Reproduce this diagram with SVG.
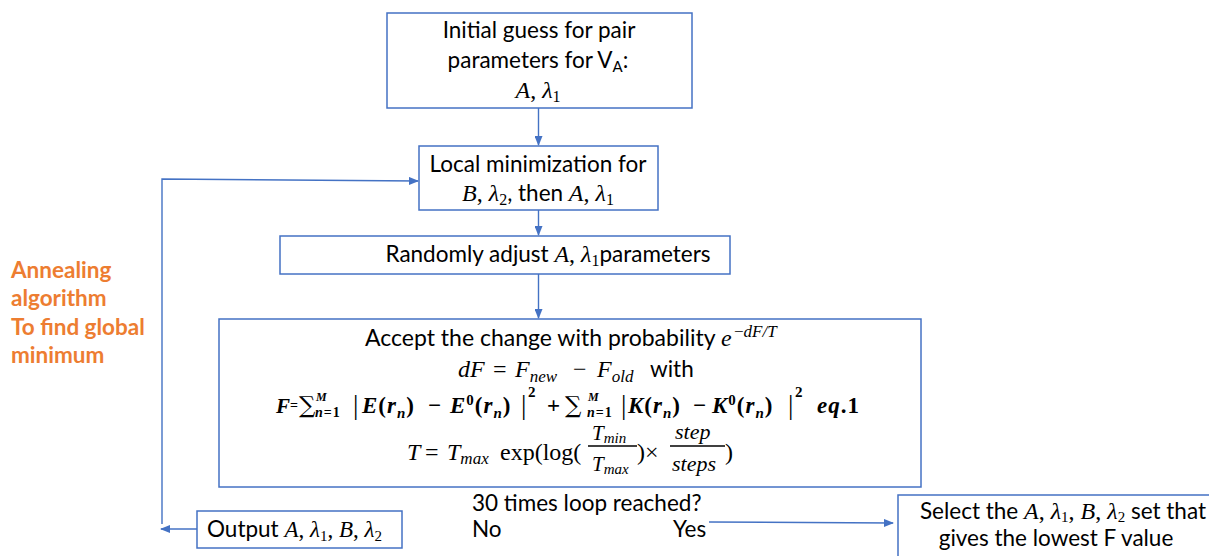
<svg xmlns="http://www.w3.org/2000/svg" width="1209" height="556" viewBox="0 0 1209 556">
<style>
.box{fill:#fff;stroke:#4472C4;stroke-width:1.5}
.cn{fill:none;stroke:#4472C4;stroke-width:1.4}
.t{font-family:Lato,"Liberation Sans",sans-serif;font-size:22.5px;font-style:normal;font-weight:normal;fill:#000}
.m{font-family:"Liberation Serif",serif;font-style:italic;fill:#000}
.mu{font-family:"Liberation Serif",serif;font-style:normal;fill:#000}
.mb{font-family:"Liberation Serif",serif;font-style:italic;font-weight:bold;letter-spacing:1px;fill:#000}
.bu{font-family:"Liberation Serif",serif;font-style:normal;font-weight:bold;fill:#000}
.sum{font-family:"DejaVu Serif",serif;font-style:normal;fill:#000}
.bar{font-family:"Liberation Serif",serif;fill:#000}
.o{font-family:Lato,"Liberation Sans",sans-serif;font-weight:bold;font-size:22.5px;fill:#ED7D31}
</style>
<defs>
<marker id="ah" markerUnits="userSpaceOnUse" markerWidth="10" markerHeight="8" refX="9" refY="4" orient="auto">
<path d="M0,0 L10,4 L0,8 z" fill="#4472C4"/>
</marker>
</defs>

<g id="connectors">
<path class="cn" d="M538.5,108 V145" marker-end="url(#ah)"/>
<path class="cn" d="M538.5,210 V235" marker-end="url(#ah)"/>
<path class="cn" d="M538.5,274 V318" marker-end="url(#ah)"/>
<path class="cn" d="M197,529 H161" marker-end="url(#ah)"/>
<path class="cn" d="M162,524 V179 L418,181" marker-end="url(#ah)"/>
<path class="cn" d="M709,522 L893,523" marker-end="url(#ah)"/>
</g>

<g id="label-annealing">
<text class="o" x="11" y="278">Annealing</text>
<text class="o" x="11" y="306">algorithm</text>
<text class="o" x="11" y="335">To find global</text>
<text class="o" x="11" y="363">minimum</text>
</g>

<g id="node-initial">
<rect class="box" x="387" y="13" width="305" height="95"/>
<text class="t" x="539" y="38" text-anchor="middle">Initial guess for pair</text>
<text class="t" x="538" y="68" text-anchor="middle">parameters for V<tspan font-size="15" dy="4">A</tspan><tspan dy="-4">:</tspan></text>
<text font-size="24" x="538" y="98" text-anchor="middle"><tspan class="m">A</tspan><tspan class="mu">, </tspan><tspan class="m">λ</tspan><tspan class="mu" font-size="16" dy="4">1</tspan></text>
</g>

<g id="node-local">
<rect class="box" x="419" y="146" width="239" height="64"/>
<text class="t" x="538" y="172" text-anchor="middle">Local minimization for</text>
<text font-size="24" x="538" y="201" text-anchor="middle"><tspan class="m">B</tspan><tspan class="mu">, </tspan><tspan class="m">λ</tspan><tspan class="mu" font-size="16" dy="4">2</tspan><tspan class="t" dy="-4">, then </tspan><tspan class="m">A</tspan><tspan class="mu">, </tspan><tspan class="m">λ</tspan><tspan class="mu" font-size="16" dy="4">1</tspan></text>
</g>

<g id="node-random">
<rect class="box" x="280" y="236" width="450" height="38"/>
<text font-size="24" x="548" y="262" text-anchor="middle"><tspan class="t">Randomly adjust </tspan><tspan class="m">A</tspan><tspan class="mu">, </tspan><tspan class="m">λ</tspan><tspan class="mu" font-size="16" dy="4">1</tspan><tspan class="t" dy="-4">parameters</tspan></text>
</g>

<g id="node-accept">
<rect class="box" x="219" y="319" width="702" height="168"/>
<text class="t" x="365" y="346" style="font-size:23px">Accept the change with probability</text>
<text class="m" font-size="24" x="721" y="346">e</text>
<text font-size="17" x="734" y="337"><tspan class="mu">−</tspan><tspan class="m">dF/T</tspan></text>

<text class="m" font-size="24" x="458" y="377">dF</text>
<text class="mu" font-size="24" x="493" y="377">=</text>
<text class="m" font-size="24" x="515" y="377">F<tspan font-size="17" dy="5">new</tspan></text>
<text class="mu" font-size="24" x="573" y="377">−</text>
<text class="m" font-size="24" x="597" y="377">F<tspan font-size="17" dy="5">old</tspan></text>
<text class="t" x="650" y="377">with</text>

<text class="mb" font-size="21" x="276" y="413">F</text>
<text class="bu" font-size="14" x="290" y="410">=</text>
<text class="sum" font-size="23" x="299" y="413">∑</text>
<text class="mb" font-size="12" x="316" y="401">M</text>
<text class="mb" font-size="14" x="315" y="417" letter-spacing="3">n<tspan class="bu">=1</tspan></text>
<text class="bar" font-size="27" x="353" y="414">|</text>
<text class="mb" font-size="23" x="362" y="413">E<tspan class="bu">(</tspan>r<tspan font-size="15" dy="5">n</tspan><tspan class="bu" dy="-5">)</tspan></text>
<text class="bu" font-size="23" x="428" y="413">−</text>
<text class="mb" font-size="23" x="450" y="413">E<tspan class="bu" font-size="15" dy="-8">0</tspan><tspan class="bu" dy="8">(</tspan>r<tspan font-size="15" dy="5">n</tspan><tspan class="bu" dy="-5">)</tspan></text>
<text class="bar" font-size="27" x="521" y="414">|</text>
<text class="bu" font-size="15" x="528" y="397">2</text>
<text class="bu" font-size="23" x="547" y="413">+</text>
<text class="sum" font-size="23" x="565" y="413">∑</text>
<text class="mb" font-size="12" x="588" y="401">M</text>
<text class="mb" font-size="14" x="587" y="417" letter-spacing="2">n<tspan class="bu">=1</tspan></text>
<text class="bar" font-size="27" x="621" y="414">|</text>
<text class="mb" font-size="23" x="628" y="413">K<tspan class="bu">(</tspan>r<tspan font-size="15" dy="5">n</tspan><tspan class="bu" dy="-5">)</tspan></text>
<text class="bu" font-size="23" x="693" y="413">−</text>
<text class="mb" font-size="23" x="712" y="413">K<tspan class="bu" font-size="15" dy="-8">0</tspan><tspan class="bu" dy="8">(</tspan>r<tspan font-size="15" dy="5">n</tspan><tspan class="bu" dy="-5">)</tspan></text>
<text class="bar" font-size="27" x="788" y="414">|</text>
<text class="bu" font-size="15" x="795" y="397">2</text>
<text class="mb" font-size="23" x="817" y="413">eq<tspan class="bu">.1</tspan></text>

<text class="m" font-size="24" x="407" y="460">T</text>
<text class="mu" font-size="24" x="425" y="460">=</text>
<text class="m" font-size="24" x="447" y="460">T<tspan font-size="17" dy="4">max</tspan></text>
<text class="mu" font-size="24" x="500" y="460">exp(log(</text>
<text class="m" font-size="21" x="592" y="440">T<tspan font-size="15" dy="3">min</tspan></text>
<line x1="588" y1="446" x2="637" y2="446" stroke="#000" stroke-width="1.3"/>
<text class="m" font-size="21" x="592" y="471">T<tspan font-size="15" dy="3">max</tspan></text>
<text class="mu" font-size="24" x="637" y="460">)×</text>
<text class="m" font-size="22" x="675" y="439">step</text>
<line x1="670" y1="446" x2="725" y2="446" stroke="#000" stroke-width="1.3"/>
<text class="m" font-size="22" x="672" y="471">steps</text>
<text class="mu" font-size="24" x="725" y="460">)</text>
</g>

<g id="label-loop">
<text class="t" x="472" y="511">30 times loop reached?</text>
<text class="t" x="472" y="537">No</text>
<text class="t" x="673" y="537">Yes</text>
</g>

<g id="node-output">
<rect class="box" x="197" y="511" width="205" height="37"/>
<text font-size="23" x="207" y="537"><tspan class="t">Output </tspan><tspan class="m">A</tspan><tspan class="mu">, </tspan><tspan class="m">λ</tspan><tspan class="mu" font-size="15" dy="4">1</tspan><tspan class="mu" dy="-4">, </tspan><tspan class="m">B</tspan><tspan class="mu">, </tspan><tspan class="m">λ</tspan><tspan class="mu" font-size="15" dy="4">2</tspan></text>
</g>

<g id="node-select">
<rect class="box" x="898" y="495" width="320" height="70"/>
<text font-size="24" x="1063" y="519" text-anchor="middle"><tspan class="t">Select the </tspan><tspan class="m">A</tspan><tspan class="mu">, </tspan><tspan class="m">λ</tspan><tspan class="mu" font-size="15" dy="3">1</tspan><tspan class="mu" dy="-3">, </tspan><tspan class="m">B</tspan><tspan class="mu">, </tspan><tspan class="m">λ</tspan><tspan class="mu" font-size="15" dy="3">2</tspan><tspan class="t" dy="-3"> set that</tspan></text>
<text class="t" x="1056" y="546" text-anchor="middle">gives the lowest F value</text>
</g>
</svg>
